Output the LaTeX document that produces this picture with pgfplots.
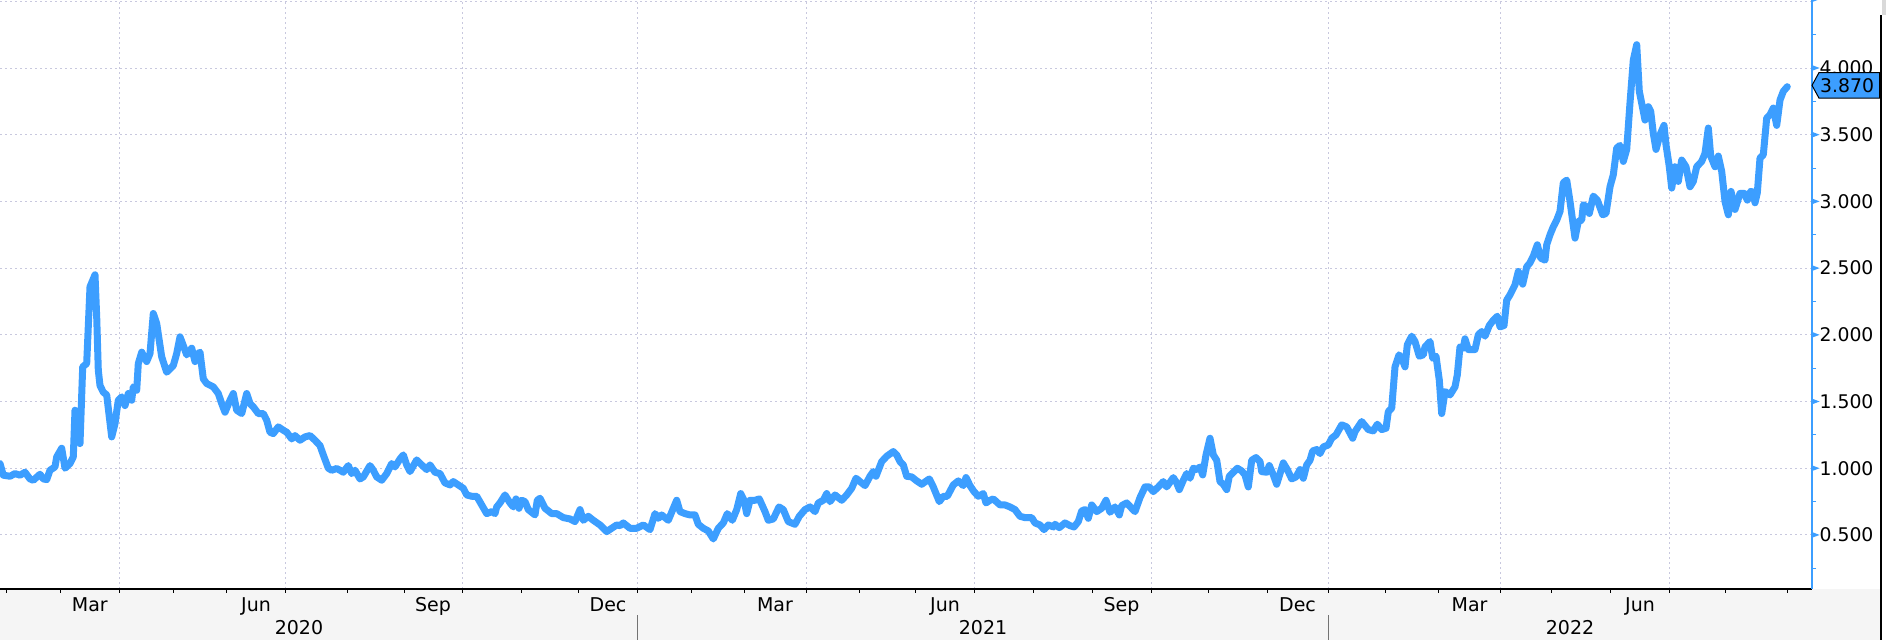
\documentclass[border=0pt]{standalone}
\usepackage{pgfplots}
\pgfplotsset{compat=1.18}
\usepackage{pgfplotstable}
\usepackage{fontspec}
\setmainfont{DejaVu Sans}
\definecolor{lineblue}{RGB}{60,158,255}
\definecolor{gridc}{RGB}{200,200,222}
\definecolor{bandgray}{RGB}{245,245,245}
\newcommand\tri{\tikz[baseline=0pt]\fill[lineblue] (0pt,2.1pt)--(3.6pt,3.43pt)--(0pt,4.8pt)--cycle;}

\pgfplotstableread{
t v
0 1.035
3.3 0.948
10 0.94
15 0.96
20 0.948
25 0.97
30 0.92
33.3 0.91
40 0.955
43.3 0.92
46.7 0.915
50 0.985
55 1.01
56.7 1.085
61.7 1.15
65 1.0
70 1.035
73.3 1.085
75 1.435
77.3 1.26
80 1.185
82.7 1.76
86.7 1.785
90 2.36
95 2.45
96.7 2.135
98.3 1.735
100 1.62
103.3 1.57
106.7 1.55
111.7 1.235
115 1.335
118.3 1.51
121.7 1.535
125 1.47
128.3 1.56
131.7 1.51
133.3 1.61
136.7 1.585
138.3 1.785
141.7 1.87
146.7 1.80
150 1.86
153.3 2.16
156.7 2.085
161.7 1.835
166.7 1.72
173.3 1.77
176.7 1.86
180 1.985
183.3 1.92
186.7 1.85
191.7 1.90
195 1.80
198.3 1.86
200 1.87
203.3 1.67
206.7 1.635
213.3 1.61
218.3 1.56
221.7 1.485
225 1.42
230 1.51
233.3 1.56
236.7 1.435
241.7 1.41
246.7 1.56
250 1.485
253.3 1.46
258.3 1.41
263.3 1.41
266.7 1.36
270 1.27
273.3 1.26
278.3 1.31
283.3 1.285
286.7 1.27
291.7 1.22
295 1.245
300 1.21
305 1.235
310 1.245
315 1.21
320 1.17
323.3 1.10
328.3 1.0
331.7 0.985
336.7 0.998
340 0.985
343.3 0.97
348.3 1.02
351.7 0.96
355 0.985
360 0.92
363.3 0.935
370 1.02
373.3 0.985
376.7 0.935
381.7 0.91
386.7 0.96
391.7 1.035
395 1.01
400 1.07
403.3 1.10
406.7 1.025
410 0.975
416.7 1.0625
421.7 1.025
426.7 0.99
430 1.025
435 0.97
440 0.96
445 0.89
450 0.875
453.3 0.90
458.3 0.875
463.3 0.85
466.7 0.80
471.7 0.79
476.7 0.79
481.7 0.725
486.7 0.66
491.7 0.675
495 0.66
496.7 0.71
500 0.74
505 0.80
510 0.74
513.3 0.71
516 0.77
519 0.70
521.7 0.76
525 0.75
528.3 0.69
535 0.65
537.3 0.76
540 0.775
545 0.70
551.7 0.66
556.7 0.66
563.3 0.63
570 0.62
575 0.60
580 0.69
583.3 0.61
588.3 0.64
593.3 0.61
600 0.575
606.7 0.525
611.7 0.55
616.7 0.575
620 0.57
623.3 0.59
630 0.55
636.7 0.55
643.3 0.575
650 0.54
655 0.66
658.3 0.625
661.7 0.65
668.3 0.61
673.3 0.70
676.7 0.76
680 0.675
685 0.66
690 0.65
695 0.65
698.3 0.58
703.3 0.55
708.3 0.53
713.3 0.47
718.3 0.55
723.3 0.59
727.3 0.66
732.3 0.61
736.7 0.69
740.7 0.81
744 0.76
746.7 0.66
750 0.76
755 0.76
759.3 0.77
765 0.675
768.3 0.61
773.3 0.62
779 0.71
783.3 0.69
788.3 0.60
795 0.58
799.3 0.64
805 0.69
810 0.71
815 0.675
818.3 0.74
823.3 0.76
826.7 0.81
830 0.75
835 0.80
841.7 0.76
846.7 0.80
851.7 0.85
856 0.925
860 0.90
865 0.87
870 0.94
873.3 0.975
876 0.94
881.7 1.05
886.7 1.09
893.3 1.125
896.7 1.10
900 1.05
903.3 1.025
906.7 0.94
911.7 0.935
916.7 0.905
921.7 0.88
929.3 0.92
933.3 0.86
939.3 0.75
943.3 0.79
947.3 0.79
953.3 0.875
958.3 0.905
963.3 0.87
966 0.93
970 0.87
974 0.825
978.3 0.79
983.3 0.81
986 0.74
990 0.76
993.3 0.77
1000 0.725
1005 0.725
1010 0.71
1015 0.69
1020 0.64
1025 0.63
1031.7 0.63
1035 0.59
1040 0.575
1044 0.54
1048.3 0.575
1053.3 0.56
1055 0.58
1059.3 0.555
1065 0.59
1070 0.57
1074 0.56
1078.3 0.60
1081.7 0.68
1085 0.69
1088.3 0.625
1091.7 0.725
1096.7 0.675
1101.7 0.70
1106 0.76
1110 0.67
1115 0.71
1119.3 0.65
1121.7 0.72
1126.7 0.74
1131.7 0.70
1135 0.675
1140 0.78
1145 0.86
1149.3 0.86
1153.3 0.825
1158.3 0.86
1163.3 0.90
1166.7 0.86
1173.3 0.93
1176.7 0.89
1179.3 0.84
1183.3 0.91
1186.7 0.96
1190 0.925
1193.3 1.0
1197.3 0.99
1200 1.01
1202.7 0.95
1206 1.10
1210 1.225
1213.3 1.10
1216.7 1.06
1220 0.90
1223.3 0.88
1226.7 0.84
1229.3 0.94
1233.3 0.97
1237.3 1.0
1241.7 0.98
1245 0.95
1248.3 0.86
1251.7 1.06
1256 1.08
1260 1.05
1261.7 0.975
1266.7 0.97
1269.3 1.02
1273.3 0.95
1276.7 0.88
1280 0.96
1283.3 1.04
1287.3 0.99
1291.7 0.92
1296 0.935
1300 0.99
1303.3 0.925
1306.7 1.025
1310 1.06
1312.7 1.13
1316.7 1.14
1320 1.11
1323.3 1.16
1328.3 1.175
1331.7 1.225
1336 1.25
1341.7 1.325
1346.7 1.31
1352.7 1.225
1355 1.275
1361.7 1.35
1368.3 1.29
1373.3 1.28
1377.3 1.33
1381.7 1.29
1386 1.30
1388.3 1.425
1391.7 1.45
1395 1.76
1399 1.85
1401.7 1.825
1405 1.76
1407.3 1.925
1411.7 1.99
1415 1.95
1419.3 1.84
1423.3 1.85
1425 1.91
1430 1.95
1432.7 1.825
1436 1.84
1439.3 1.66
1441.7 1.41
1445 1.575
1450 1.55
1455 1.61
1457.3 1.70
1460 1.91
1463.3 1.90
1465 1.97
1468.3 1.89
1475 1.89
1478.3 2.0
1481.7 2.025
1485 1.99
1489.3 2.07
1493.3 2.11
1497.3 2.14
1500 2.06
1504 2.07
1506.7 2.26
1510 2.30
1515 2.375
1518.3 2.475
1522.7 2.38
1526.7 2.51
1530 2.54
1533.3 2.59
1537.3 2.675
1540.7 2.575
1545 2.56
1546.7 2.675
1550 2.75
1553.3 2.81
1556.7 2.86
1560 2.925
1563.3 3.14
1566.7 3.16
1570 3.0
1575 2.725
1578.3 2.85
1581.7 2.86
1583.3 2.975
1586.7 2.96
1589.3 2.91
1593.3 3.04
1597.3 3.01
1602.7 2.90
1606 2.91
1610 3.11
1613.3 3.20
1616.7 3.40
1620 3.42
1623.3 3.30
1626.7 3.39
1630 3.74
1633.3 4.06
1636.7 4.175
1639.3 3.825
1643.3 3.675
1645 3.61
1648.3 3.71
1650.7 3.675
1653.3 3.51
1656 3.39
1660 3.50
1664 3.57
1666 3.425
1669.3 3.26
1671.7 3.10
1675 3.26
1678.3 3.15
1681.7 3.31
1686 3.26
1690 3.11
1693.3 3.15
1696.7 3.26
1701.7 3.30
1705 3.36
1708.3 3.55
1710.7 3.34
1715 3.26
1718.3 3.34
1721.7 3.225
1725 3.0
1728.3 2.90
1731 3.075
1735 2.94
1740 3.06
1744.3 3.06
1747.3 3.01
1750.7 3.075
1753.3 3.07
1755 2.99
1757.3 3.065
1760 3.325
1763.3 3.35
1766.7 3.625
1770 3.65
1773.3 3.70
1776.7 3.57
1780 3.76
1783.3 3.825
1787.3 3.86
}\datatable

\begin{document}
\begin{tikzpicture}
\useasboundingbox (0,0) rectangle (943pt,320pt);
\fill[white] (0,0) rectangle (943pt,320pt);
\fill[bandgray] (0,0) rectangle (940pt,25.5pt);
\begin{axis}[
  at={(0,25.5pt)}, anchor=south west,
  scale only axis, width=906pt, height=294.5pt,
  xmin=0, xmax=1812, ymin=0.095, ymax=4.51,
  axis x line*=bottom, axis y line*=right,
  x axis line style={black, line width=0.7pt},
  y axis line style={lineblue, line width=0.6pt},
  tick align=outside,
  major tick length=2pt, minor tick length=2pt,
  xtick={119.6,285,462,637.5,806,974,1151,1328,1500.7,1669},
  xticklabels={},
  minor xtick={6,60,173.7,226.8,347,404,521,578.6,691.5,744.6,859,915.6,1033,1092,1208.5,1267,1385,1438.6,1551.4,1610.6,1725.5,1787.5},
  ytick={0.5,1,1.5,2,2.5,3,3.5,4,4.5},
  yticklabels={\tri0.500,\tri1.000,\tri1.500,\tri2.000,\tri2.500,\tri3.000,\tri3.500,\tri4.000,\tri},
  minor ytick={0.25,0.75,1.25,1.75,2.25,2.75,3.25,3.75,4.25},
  major y tick style={draw=none},
  minor y tick style={lineblue, line width=0.5pt},
  major x tick style={black, line width=0.5pt},
  minor x tick style={black, line width=0.5pt},
  yticklabel style={anchor=west, inner sep=0pt, xshift=-2pt, font=\fontsize{9.4}{11}\selectfont},
  xmajorgrids, ymajorgrids,
  major grid style={gridc, dash pattern=on 1pt off 1.5pt, line width=0.5pt},
  clip mode=individual,
]
\addplot[lineblue, line width=3.5pt, line join=round, line cap=round] table[x=t, y=v] {\datatable};

\coordinate (tip) at (axis cs:1812,3.87);
\end{axis}
\draw[fill=lineblue, draw=black, line width=0.5pt] (tip) -- ++(3.5pt,6.4pt) -- ++(30.35pt,0pt) -- ++(0pt,-12.8pt) -- ++(-30.35pt,0pt) -- cycle;
\node[anchor=west, inner sep=0pt, font=\fontsize{9.4}{11}\selectfont] at ([xshift=3.9pt]tip) {3.870};

\begin{scope}[every node/.style={font=\fontsize{9.5}{11}\selectfont, anchor=base}]
\node at (44.9pt,14pt) {Mar};
\node at (128pt,14pt) {Jun};
\node at (216.5pt,14pt) {Sep};
\node at (304pt,14pt) {Dec};
\node at (387.5pt,14pt) {Mar};
\node at (472.5pt,14pt) {Jun};
\node at (560.75pt,14pt) {Sep};
\node at (648.75pt,14pt) {Dec};
\node at (734.8pt,14pt) {Mar};
\node at (820pt,14pt) {Jun};
\node at (149.5pt,2.5pt) {2020};
\node at (491.5pt,2.5pt) {2021};
\node at (785pt,2.5pt) {2022};
\end{scope}
\draw[black!55, line width=0.5pt] (318.75pt,0pt) -- (318.75pt,12.5pt);
\draw[black!55, line width=0.5pt] (664pt,0pt) -- (664pt,12.5pt);
\draw[black, line width=1pt] (940.5pt,0pt) -- (940.5pt,312.5pt);
\fill[black!15] (941pt,312.5pt) rectangle (943pt,320pt);
\end{tikzpicture}
\end{document}
